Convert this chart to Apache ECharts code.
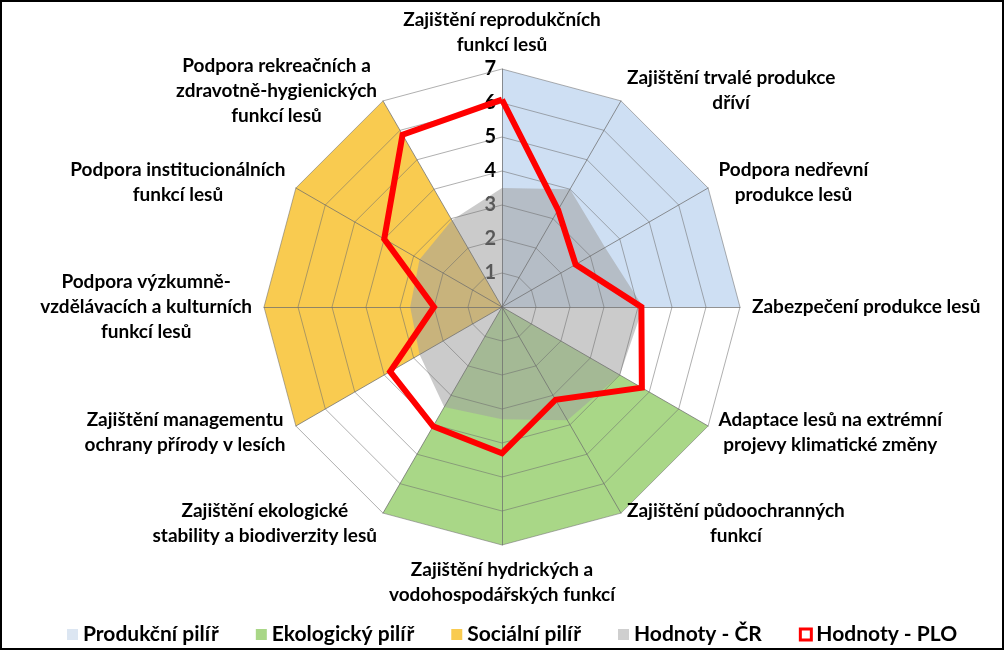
<!DOCTYPE html>
<html><head><meta charset="utf-8">
<script src="https://cdn.jsdelivr.net/npm/echarts@6/dist/echarts.min.js"></script>
<style>html,body{margin:0;padding:0;background:#fff}#c{width:1005px;height:651px}</style>
</head><body><div id="c"></div>
<script>
const categories = [
 'Zajištění reprodukčních\nfunkcí lesů',
 'Zajištění trvalé produkce\ndříví',
 'Podpora nedřevní\nprodukce lesů',
 'Zabezpečení produkce lesů',
 'Adaptace lesů na extrémní\nprojevy klimatické změny',
 'Zajištění půdoochranných\nfunkcí',
 'Zajištění hydrických a\nvodohospodářských funkcí',
 'Zajištění ekologické\nstability a biodiverzity lesů',
 'Zajištění managementu\nochrany přírody v lesích',
 'Podpora výzkumně-\nvzdělávacích a kulturních\nfunkcí lesů',
 'Podpora institucionálních\nfunkcí lesů',
 'Podpora rekreačních a\nzdravotně-hygienických\nfunkcí lesů'
];
const seriesNames = ['Produkční pilíř','Ekologický pilíř','Sociální pilíř','Hodnoty - ČR','Hodnoty - PLO'];
const produkcniPilir = [7,7,7,7,0,0,0,0,0,0,0,0];
const ekologickyPilir = [0,0,0,0,7,7,7,7,0,0,0,0];
const socialniPilir  = [0,0,0,0,0,0,0,0,7,7,7,7];
const hodnotyCR  = [3.5,4.0,3.5,4.15,4.0,3.85,3.3,3.4,2.8,2.7,2.8,2.95];
const hodnotyPLO = [6.1,3.3,2.5,4.1,4.75,3.15,4.3,4.05,3.8,2.0,4.0,5.85];
const tickValues = [1,2,3,4,5,6,7];
const axisMin = 0, axisMax = 7;

// ECharts places radar indicators counter-clockwise; reorder to go clockwise from the top.
const cw = arr => [arr[0]].concat(arr.slice(1).reverse());

const FONT = 'Lato';
const colors = {
  prod: '#CEDFF3', eko: '#A9D787', soc: '#F9CB50',
  cr: 'rgba(160,160,160,0.55)', plo: '#FF0000'
};

const chart = echarts.init(document.getElementById('c'), null, {renderer: 'canvas'});
const areaSeries = (name, data, color, z) => ({
  type: 'radar', z: z, symbol: 'none', silent: true,
  lineStyle: {width: 0, opacity: 0},
  areaStyle: {color: color, opacity: 1},
  itemStyle: {color: color},
  data: [{name: name, value: cw(data)}]
});

chart.setOption({
  animation: false,
  radar: {
    z: 3,
    center: [502, 307],
    radius: 238,
    startAngle: 90,
    shape: 'polygon',
    splitNumber: 7,
    axisNameGap: 12,
    indicator: cw(categories).map(n => ({name: n, min: axisMin, max: axisMax})),
    axisName: {
      color: '#000', fontFamily: FONT, fontWeight: 'bold', fontSize: 19, lineHeight: 25,
      formatter: n => n.split('\n').map(l => '{c|' + l + '}').join('\n'),
      rich: {c: {align: 'center', color: '#000', fontFamily: FONT, fontWeight: 'bold', fontSize: 19, lineHeight: 25}}
    },
    axisLine: {lineStyle: {color: 'rgba(110,110,110,0.75)', width: 1}},
    splitLine: {lineStyle: {color: 'rgba(110,110,110,0.55)', width: 1}},
    splitArea: {show: false},
    axisLabel: {show: false},
    axisTick: {show: false}
  },
  grid: {left: 502, top: 69, width: 20, height: 238},
  xAxis: {type: 'value', show: false, min: 0, max: 1},
  yAxis: {
    type: 'value', min: axisMin, max: axisMax, interval: 1, position: 'left',
    axisLine: {show: false}, axisTick: {show: false}, splitLine: {show: false},
    axisLabel: {
      margin: 6, color: '#000', fontFamily: FONT, fontWeight: 'bold', fontSize: 20,
      formatter: v => tickValues.includes(v) ? String(v) : ''
    }
  },
  legend: {
    left: 62, top: 619, itemGap: 37, itemWidth: 11, itemHeight: 11, icon: 'rect',
    textStyle: {color: '#000', fontFamily: FONT, fontSize: 21, fontWeight: 'bold'},
    data: [
      {name: seriesNames[0], itemStyle: {color: '#DCE6F2'}},
      {name: seriesNames[1], itemStyle: {color: colors.eko}},
      {name: seriesNames[2], itemStyle: {color: colors.soc}},
      {name: seriesNames[3], itemStyle: {color: '#CFCFCF'}},
      {name: seriesNames[4], itemStyle: {color: '#FFFFFF', borderColor: '#FF0000', borderWidth: 3}}
    ]
  },
  series: [
    areaSeries(seriesNames[0], produkcniPilir, colors.prod, 1),
    areaSeries(seriesNames[1], ekologickyPilir, colors.eko, 1),
    areaSeries(seriesNames[2], socialniPilir, colors.soc, 1),
    areaSeries(seriesNames[3], hodnotyCR, colors.cr, 2),
    {
      type: 'radar', z: 4, symbol: 'none', silent: true,
      lineStyle: {color: colors.plo, width: 6, join: 'miter'},
      itemStyle: {color: colors.plo},
      data: [{name: seriesNames[4], value: cw(hodnotyPLO)}]
    }
  ],
  graphic: [{
    type: 'rect', z: 100, silent: true,
    shape: {x: 1, y: 1, width: 1002, height: 648},
    style: {fill: 'none', stroke: '#000', lineWidth: 2}
  }]
});
</script></body></html>
